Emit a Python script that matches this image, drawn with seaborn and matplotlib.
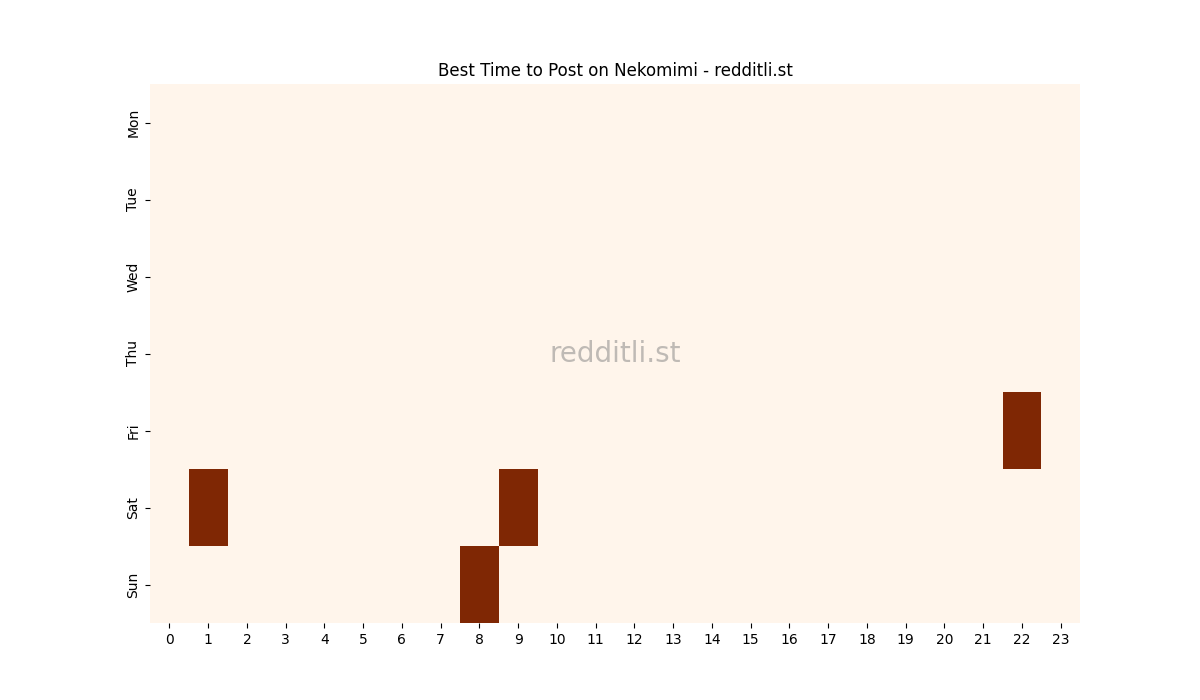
import numpy as np
import pandas as pd
import seaborn as sns
import matplotlib
matplotlib.use("Agg")
import matplotlib.pyplot as plt

days = ['Mon', 'Tue', 'Wed', 'Thu', 'Fri', 'Sat', 'Sun']
hours = list(range(24))

# (day, hour) cells that have posts, all at the same count
hot_cells = [('Fri', 22), ('Sat', 1), ('Sat', 9), ('Sun', 8)]
hot_value = 1

counts = pd.DataFrame(0, index=days, columns=hours)
for d, h in hot_cells:
    counts.loc[d, h] = hot_value

fig = plt.figure(figsize=(12, 7), dpi=100)
ax = sns.heatmap(counts, cmap='Oranges', cbar=False)
ax.set_title('Best Time to Post on Nekomimi - redditli.st')
ax.text(0.5, 0.5, 'redditli.st', transform=ax.transAxes, fontsize=20,
        color='grey', alpha=0.5, ha='center', va='center')
ax.tick_params(axis='x', rotation=0)

fig.savefig('out.png', dpi=100)
